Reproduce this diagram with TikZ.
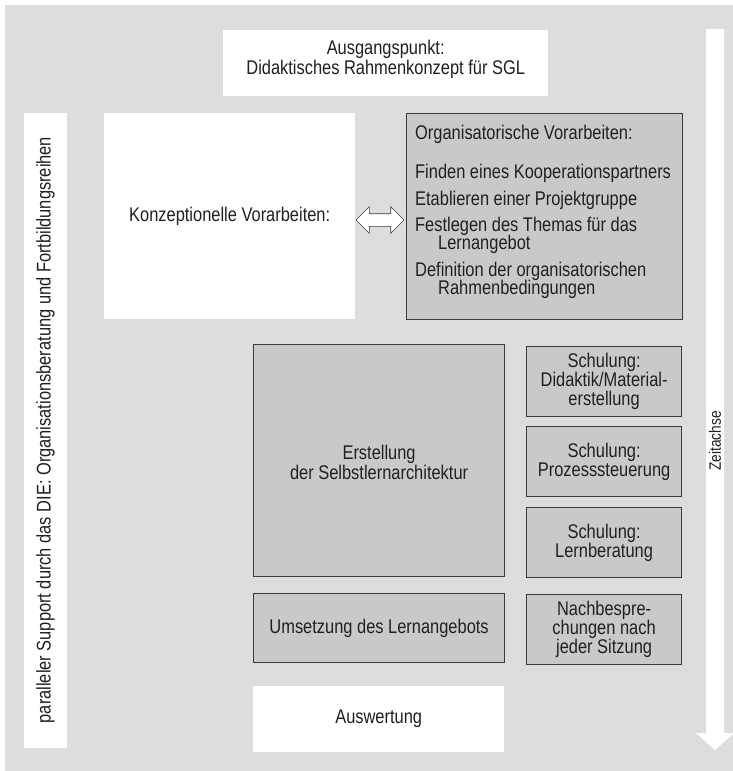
\documentclass[tikz,border=0pt]{standalone}
\usepackage{fontspec}
\setmainfont{Liberation Sans}[FakeStretch=0.83]
\usetikzlibrary{shapes.arrows}
\definecolor{bggray}{HTML}{DCDDDF}
\definecolor{boxgray}{HTML}{C8C9CB}
\definecolor{edgecol}{HTML}{3C3C3C}
\definecolor{ink}{HTML}{231F20}
\newcommand\shiftup[2]{\raisebox{0pt}[\height][\dimexpr\depth+#1\relax]{#2}}
\newcommand\shiftdown[2]{\raisebox{0pt}[\dimexpr\height+#1\relax][\depth]{#2}}
\newcommand\lines[1]{\begin{tabular}{@{}c@{}}#1\end{tabular}}
\begin{document}
\begin{tikzpicture}[x=1pt,y=-1pt,
  every node/.style={text=ink, font=\fontsize{19.8}{19}\selectfont},
  graybox/.style={draw=edgecol, fill=boxgray, line width=1.2pt, anchor=north west, inner sep=0pt, align=center},
  whitebox/.style={fill=white, anchor=north west, inner sep=0pt, align=center},
  orgline/.style={anchor=base west, inner sep=0pt}]
\useasboundingbox (0,0) rectangle (733,771);
\fill[bggray] (5,5) rectangle (733,771);

% time axis
\fill[white] (706,29) -- (724,29) -- (724,733) -- (734,733) -- (715,750) -- (696,733) -- (706,733) -- cycle;
\node[rotate=90, font=\fontsize{16.5}{16.5}\selectfont] (zeit) at (715,441) {Zeitachse};

% left support bar
\node[fill=white, rotate=90, minimum width=635, minimum height=43, inner sep=0pt] (support) at (45.5,430)
  {paralleler Support durch das DIE: Organisationsberatung und Fortbildungsreihen};

% start
\node[whitebox, minimum width=325, minimum height=66] (aus) at (223,30)
  {\shiftup{6pt}{\lines{Ausgangspunkt:\\Didaktisches Rahmenkonzept für SGL}}};

% preparations
\node[whitebox, minimum width=251, minimum height=206] (konz) at (104,113) {Konzeptionelle Vorarbeiten:};
\node[graybox, minimum width=276, minimum height=206] (org) at (406,113) {};
\node[orgline] (o1) at (415,139) {Organisatorische Vorarbeiten:};
\node[orgline] (o2) at (415,178) {Finden eines Kooperationspartners};
\node[orgline] (o3) at (415,205) {Etablieren einer Projektgruppe};
\node[orgline] (o4) at (415,231) {Festlegen des Themas für das};
\node[orgline] (o5) at (438,249) {Lernangebot};
\node[orgline] (o6) at (415,276) {Definition der organisatorischen};
\node[orgline] (o7) at (438,294) {Rahmenbedingungen};
\node[double arrow, draw=edgecol, fill=white, line width=0.6pt, minimum height=48pt,
      inner sep=6pt, double arrow head extend=7pt] (dbl) at (380,220) {};

% architecture and trainings
\node[graybox, minimum width=251, minimum height=232] (erst) at (253,344)
  {\shiftdown{10pt}{\lines{Erstellung\\der Selbstlernarchitektur}}};
\node[graybox, minimum width=155, minimum height=70] (s1) at (526,346) {Schulung:\\Didaktik/Material-\\erstellung};
\node[graybox, minimum width=155, minimum height=70] (s2) at (526,426) {Schulung:\\Prozesssteuerung};
\node[graybox, minimum width=155, minimum height=70] (s3) at (526,507) {Schulung:\\Lernberatung};

% implementation
\node[graybox, minimum width=251, minimum height=69] (ums) at (253,593) {Umsetzung des Lernangebots};
\node[graybox, minimum width=155, minimum height=70] (nach) at (526,594) {Nachbespre-\\chungen nach\\jeder Sitzung};

% evaluation
\node[whitebox, minimum width=251, minimum height=66] (ausw) at (253,686) {Auswertung};
\end{tikzpicture}
\end{document}
